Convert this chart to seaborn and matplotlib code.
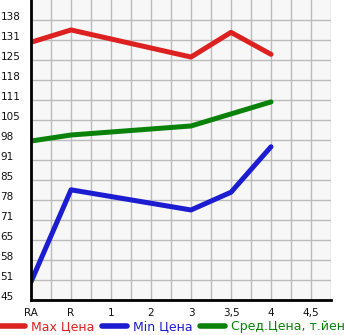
import numpy as np
import pandas as pd
import matplotlib
matplotlib.use("Agg")
import matplotlib.pyplot as plt
import seaborn as sns
from matplotlib.lines import Line2D

categories = ["RA", "R", "1", "2", "3", "3,5", "4", "4,5"]
max_price = [130.6, 134.7, np.nan, np.nan, 125.7, 133.9, 126.6, np.nan]
min_price = [51.0, 81.6, np.nan, np.nan, 74.9, 80.8, 95.9, np.nan]
avg_price = [97.8, 99.8, np.nan, np.nan, 102.8, np.nan, 110.8, np.nan]
ytick_labels = ["45", "51", "58", "65", "71", "78", "85", "91", "98", "105", "111", "118", "125", "131", "138"]
series_names = ["Max Цена", "Min Цена", "Сред.Цена, т.йен"]
colors = ["#dd2020", "#1c1cd0", "#0a820a"]

sns.set_style("white")
plt.rcParams['font.family'] = ['DejaVu Sans']

fig = plt.figure(figsize=(3.45, 3.35), dpi=100)
ax = fig.add_axes([31/345, 35/335, 300/345, 300/335])
ax.set_facecolor("#f7f7f7")

pos = np.arange(len(categories))
frames = []
for name, vals in zip(series_names, [max_price, min_price, avg_price]):
    frames.append(pd.DataFrame({"pos": pos, "value": vals, "series": name}))
df = pd.concat(frames, ignore_index=True).dropna()

sns.lineplot(data=df, x="pos", y="value", hue="series", hue_order=series_names,
             palette=colors, linewidth=3.6, ax=ax, legend=False, sort=True,
             solid_capstyle="round", zorder=3)

ystep = (138 - 45) / 14
yt = [45 + i * ystep for i in range(len(ytick_labels))]
ax.set_ylim(45, 45 + 15 * ystep)
ax.set_xlim(0, len(categories) - 0.5)
ax.set_yticks(yt)
ax.set_yticklabels(ytick_labels)
ax.set_xticks(pos)
ax.set_xticklabels(categories)
ax.set_xticks(np.arange(0.5, len(categories), 1.0), minor=True)
ax.set_xlabel("")
ax.set_ylabel("")

ax.grid(True, which="both", color="#bbbbbb", linewidth=1.0, zorder=0)
ax.set_axisbelow(True)
for s in ["top", "right"]:
    ax.spines[s].set_visible(False)
for s in ["left", "bottom"]:
    ax.spines[s].set_color("black")
    ax.spines[s].set_linewidth(2.0)
    ax.spines[s].set_zorder(5)

ax.tick_params(axis="both", which="both", direction="out", length=3, width=1, color="black",
               labelsize=7.5, labelcolor="#111111")
ax.tick_params(axis="y", pad=19)
for lab in ax.get_yticklabels():
    lab.set_horizontalalignment("left")
    lab.set_verticalalignment("baseline")
ax.tick_params(axis="x", pad=2.5)

handles = [Line2D([0], [0], color=c, linewidth=4, solid_capstyle="round") for c in colors]
leg = fig.legend(handles, series_names, loc="lower left", bbox_to_anchor=(-0.005, 0.002),
                 ncol=3, frameon=False, fontsize=9, handlelength=2.0, handletextpad=0.5,
                 columnspacing=0.6, borderpad=0.1, borderaxespad=0.0)
for t, c in zip(leg.get_texts(), colors):
    t.set_color(c)

fig.savefig("out.png", dpi=100)
